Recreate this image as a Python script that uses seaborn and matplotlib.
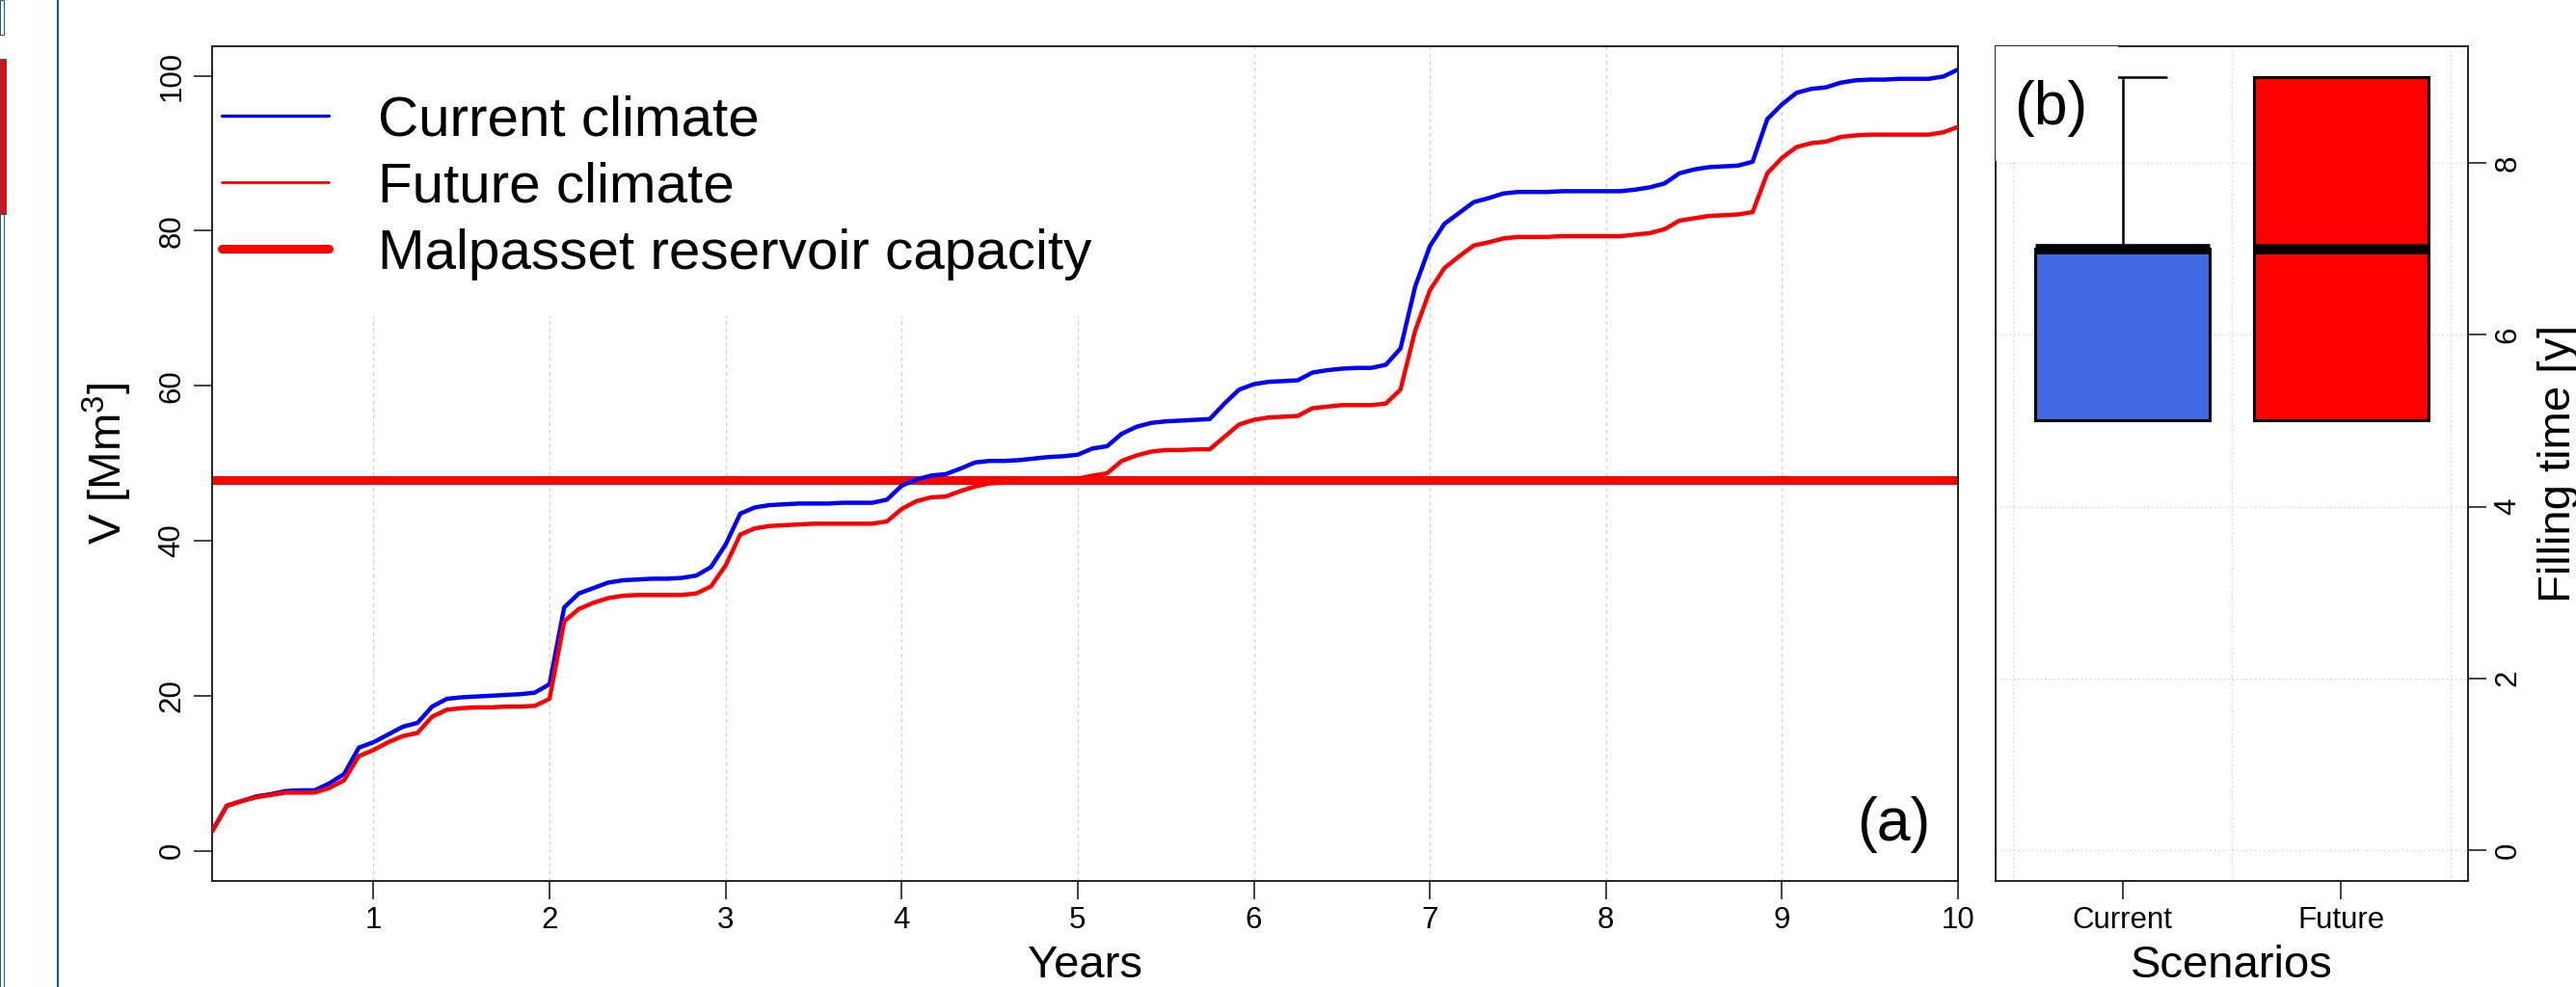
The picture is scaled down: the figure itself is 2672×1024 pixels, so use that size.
import numpy as np
import pandas as pd
import seaborn as sns
import matplotlib.pyplot as plt
from matplotlib.lines import Line2D
from matplotlib.patches import Rectangle

# monthly storage volume (Mm3) over the 10 years
months = list(range(1, 121))
years = [m / 12 for m in months]

current_v = [2.5, 5.8, 6.4, 7.0, 7.3, 7.7, 7.8, 7.8, 8.7, 9.9, 13.3, 14.0,
             15.0, 16.0, 16.5, 18.6, 19.6, 19.8, 19.9, 20.0, 20.1, 20.2, 20.4, 21.5,
             31.4, 33.2, 33.9, 34.6, 34.9, 35.0, 35.1, 35.1, 35.2, 35.5, 36.6, 39.5,
             43.5, 44.3, 44.6, 44.7, 44.8, 44.8, 44.8, 44.9, 44.9, 44.9, 45.3, 47.1,
             47.9, 48.4, 48.6, 49.3, 50.1, 50.3, 50.3, 50.4, 50.6, 50.8, 50.9, 51.1,
             51.9, 52.2, 53.8, 54.7, 55.2, 55.4, 55.5, 55.6, 55.7, 57.7, 59.5, 60.2,
             60.5, 60.6, 60.7, 61.7, 62.0, 62.2, 62.3, 62.3, 62.7, 64.8, 72.8, 78.0,
             80.9, 82.3, 83.7, 84.2, 84.8, 85.0, 85.0, 85.0, 85.1, 85.1, 85.1, 85.1,
             85.1, 85.3, 85.6, 86.1, 87.4, 87.9, 88.2, 88.3, 88.4, 88.9, 94.4, 96.3,
             97.8, 98.3, 98.5, 99.1, 99.4, 99.5, 99.5, 99.6, 99.6, 99.6, 99.9, 100.8]

future_v = [2.5, 5.8, 6.4, 6.9, 7.2, 7.5, 7.5, 7.5, 8.1, 9.1, 12.2, 13.0,
            14.0, 14.8, 15.2, 17.3, 18.2, 18.4, 18.5, 18.5, 18.6, 18.6, 18.7, 19.6,
            29.6, 31.2, 32.0, 32.6, 32.9, 33.0, 33.0, 33.0, 33.0, 33.2, 34.1, 36.8,
            40.8, 41.6, 41.9, 42.0, 42.1, 42.2, 42.2, 42.2, 42.2, 42.2, 42.5, 44.1,
            45.1, 45.6, 45.7, 46.4, 47.0, 47.4, 47.5, 47.6, 47.7, 47.8, 47.9, 48.0,
            48.4, 48.7, 50.3, 51.0, 51.5, 51.7, 51.7, 51.8, 51.8, 53.4, 55.0, 55.6,
            55.9, 56.0, 56.1, 57.1, 57.3, 57.5, 57.5, 57.5, 57.7, 59.5, 67.1, 72.3,
            75.2, 76.7, 78.1, 78.5, 79.0, 79.2, 79.2, 79.2, 79.3, 79.3, 79.3, 79.3,
            79.3, 79.5, 79.7, 80.2, 81.3, 81.6, 81.9, 82.0, 82.1, 82.4, 87.4, 89.4,
            90.8, 91.3, 91.5, 92.1, 92.3, 92.4, 92.4, 92.4, 92.4, 92.4, 92.7, 93.4]

capacity = 47.8

# filling times (years) for the two scenarios
scenarios = ['Current', 'Future']
current_fill = [5, 5, 5, 7, 7, 7, 7, 9]
future_fill = [5, 5, 5, 7, 7, 9, 9, 9]

sns.set_style('white')
plt.rcParams['font.family'] = ['Liberation Sans', 'DejaVu Sans']
plt.rcParams['mathtext.fontset'] = 'custom'
plt.rcParams['mathtext.rm'] = 'Liberation Sans'
for k in ['text.color', 'axes.labelcolor', 'xtick.color', 'ytick.color']:
    plt.rcParams[k] = 'black'

W, H = 2672, 1024
fig = plt.figure(figsize=(W / 100, H / 100), dpi=100)
fig.patch.set_facecolor('white')

def box(l, r, t, b):
    return [l / W, 1 - b / H, (r - l) / W, (b - t) / H]

ax1 = fig.add_axes(box(220, 2031, 48, 914))
ax2 = fig.add_axes(box(2070, 2560, 48, 914))

# ---- (a) cumulative volume
vol = pd.DataFrame({
    'year': years * 2,
    'V': current_v + future_v,
    'scenario': ['Current climate'] * len(years) + ['Future climate'] * len(years),
})
sns.lineplot(data=vol, x='year', y='V', hue='scenario',
             palette={'Current climate': 'blue', 'Future climate': 'red'},
             lw=3.2, legend=False, ax=ax1, zorder=3)
ax1.axhline(capacity, color='red', lw=6.5, zorder=2.5)

ax1.set_xlim(1 / 12, 10)
ax1.set_ylim(-3.9, 103.8)
ax1.set_xticks(range(1, 11))
ax1.set_yticks(range(0, 101, 20))
ax1.set_axisbelow(True)
ax1.grid(axis='x', color='#cfcfcf', lw=0.9, linestyle=(0, (3, 3)))
ax1.grid(axis='y', visible=False)
ax1.tick_params(axis='both', direction='out', length=14, width=1.2,
                color='#222222', labelsize=22.5, pad=5,
                bottom=True, left=True)
ax1.tick_params(axis='y', labelrotation=90)
plt.setp(ax1.get_yticklabels(), va='center')
for s in ax1.spines.values():
    s.set_color('#222222')
    s.set_linewidth(1.4)

ax1.set_xlabel('Years', fontsize=34)
ax1.set_ylabel(r'V [Mm$^\mathregular{3}$]', fontsize=34)
ax1.xaxis.set_label_coords(0.5, -0.076)
ax1.yaxis.set_label_coords(-0.045, 0.5)

# white background behind the legend
ax1.add_patch(Rectangle((0, 0.677), 0.508, 0.323, transform=ax1.transAxes,
                        facecolor='white', edgecolor='none', zorder=1))
handles = [Line2D([], [], color='blue', lw=2.4),
           Line2D([], [], color='red', lw=2.0),
           Line2D([], [], color='red', lw=6.5)]
ax1.legend(handles, ['Current climate', 'Future climate', 'Malpasset reservoir capacity'],
           loc='upper left', bbox_to_anchor=(0.0055, 0.942), frameon=False,
           borderpad=0, borderaxespad=0, fontsize=42, handlelength=1.9,
           handletextpad=0.87, labelspacing=0.26)
ax1.text(0.963, 0.068, '(a)', transform=ax1.transAxes, fontsize=45,
         ha='center', va='center')

# ---- (b) filling time boxplot
fill = pd.DataFrame({
    'scenario': ['Current'] * len(current_fill) + ['Future'] * len(future_fill),
    'time': current_fill + future_fill,
})
sns.boxplot(data=fill, x='scenario', y='time', hue='scenario', order=scenarios,
            palette={'Current': '#4169E1', 'Future': '#FF0000'}, saturation=1,
            width=0.8, linewidth=2.2, linecolor='black', showfliers=False,
            whis=1.5, legend=False, ax=ax2,
            medianprops={'color': 'black', 'linewidth': 7.7, 'solid_capstyle': 'butt'},
            whiskerprops={'linewidth': 1.8}, capprops={'linewidth': 1.8})

ax2.set_xlim(-0.58, 1.58)
ax2.set_ylim(-0.36, 9.36)
ax2.set_yticks(range(0, 9, 2))
ax2.set_xticks([0, 1])
ax2.set_xticklabels(scenarios)
ax2.set_xticks([-0.5, 0.5, 1.5], minor=True)
ax2.set_axisbelow(True)
ax2.grid(which='minor', axis='x', color='#cfcfcf', lw=0.9, linestyle=(0, (1.2, 2.5)))
ax2.grid(which='major', axis='y', color='#cfcfcf', lw=0.9, linestyle=(0, (1.2, 2.5)))
ax2.grid(which='major', axis='x', visible=False)
ax2.yaxis.tick_right()
ax2.tick_params(axis='both', which='major', direction='out', length=14, width=1.2,
                color='#222222', labelsize=22.5, pad=5, bottom=True, right=True,
                left=False)
ax2.tick_params(which='minor', length=0)
ax2.tick_params(axis='y', labelrotation=90)
plt.setp(ax2.get_yticklabels(), va='center')
for s in ax2.spines.values():
    s.set_color('#222222')
    s.set_linewidth(1.4)

ax2.set_xlabel('Scenarios', fontsize=34)
ax2.xaxis.set_label_coords(0.5, -0.076)
ax2.yaxis.set_label_position('right')
ax2.set_ylabel('Filling time [y]', fontsize=34)
ax2.yaxis.set_label_coords(1.147, 0.5)

ax2.add_patch(Rectangle((0, 0.863), 0.259, 0.137, transform=ax2.transAxes,
                        facecolor='white', edgecolor='none', zorder=5))
ax2.text(0.116, 0.925, '(b)', transform=ax2.transAxes, fontsize=45,
         ha='center', va='center', zorder=6)

# slide frame remnants on the left edge
edge = '#1b5e8c'
fig.add_artist(Line2D([60 / W, 60 / W], [0, 1], color=edge, lw=1.6))
fig.add_artist(Rectangle((0, 1 - 36 / H), 4 / W, 36 / H, transform=fig.transFigure,
                         facecolor='white', edgecolor=edge, lw=0.8))
fig.add_artist(Rectangle((0, 1 - 222 / H), 6 / W, 161 / H, transform=fig.transFigure,
                         facecolor='red', edgecolor=edge, lw=0.7))
fig.add_artist(Rectangle((0, -0.01), 4 / W, 1 - 222 / H + 0.01, transform=fig.transFigure,
                         facecolor='white', edgecolor=edge, lw=0.8))

fig.savefig('out.png', dpi=100)
